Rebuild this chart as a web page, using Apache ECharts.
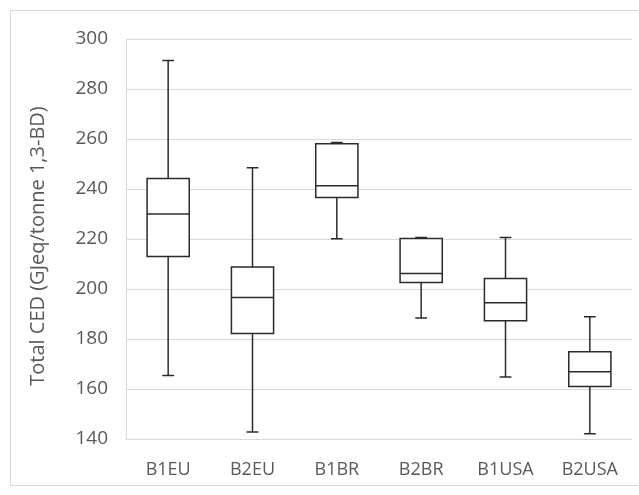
<!DOCTYPE html>
<html>
<head>
<meta charset="utf-8">
<script src="https://cdn.jsdelivr.net/npm/echarts@6/dist/echarts.min.js"></script>
<style>
  html, body { margin: 0; padding: 0; background: #fff; }
  #chart { width: 639px; height: 495px; }
</style>
</head>
<body>
<div id="chart"></div>
<script>
// categories and box stats
const categories = ['B1EU', 'B2EU', 'B1BR', 'B2BR', 'B1USA', 'B2USA'];
const mins    = [165.4, 142.8, 220.1, 188.4, 164.8, 142.1];
const q1s     = [213.0, 182.2, 236.6, 202.6, 187.3, 161.0];
const medians = [230.0, 196.6, 241.3, 206.2, 194.5, 166.9];
const q3s     = [244.2, 208.8, 258.1, 220.2, 204.2, 174.9];
const maxs    = [291.4, 248.5, 258.6, 220.6, 220.6, 188.9];

const yTicks = [140, 160, 180, 200, 220, 240, 260, 280, 300];

const font = '"Open Sans", sans-serif';
const textGray = '#595959';
const lineCol = '#2b2b2b';

const boxData = categories.map((c, i) => [i, mins[i], q1s[i], medians[i], q3s[i], maxs[i]]);

const chart = echarts.init(document.getElementById('chart'));

chart.setOption({
  animation: false,
  graphic: [
    {
      type: 'rect',
      shape: { x: 10.5, y: 10.5, width: 640, height: 475 },
      style: { fill: 'none', stroke: '#d9d9d9', lineWidth: 1 },
      silent: true,
    },
  ],
  grid: {
    left: 126,
    right: 7,
    top: 39,
    bottom: 56,
  },
  xAxis: {
    type: 'category',
    data: categories,
    axisLine: { show: true, lineStyle: { color: '#d9d9d9', width: 1 } },
    axisTick: { show: false },
    axisLabel: {
      color: textGray,
      fontFamily: font,
      fontSize: 18,
      margin: 22,
    },
  },
  yAxis: {
    type: 'value',
    min: yTicks[0],
    max: yTicks[yTicks.length - 1],
    interval: 20,
    name: 'Total CED (GJeq/tonne 1,3-BD)',
    nameLocation: 'middle',
    nameGap: 78,
    nameTextStyle: {
      color: textGray,
      fontFamily: font,
      fontSize: 20,
      padding: [0, 14, 0, 0],
    },
    axisLine: { show: true, lineStyle: { color: '#d9d9d9', width: 1 } },
    axisTick: { show: false },
    axisLabel: {
      color: textGray,
      fontFamily: font,
      fontSize: 19,
      margin: 18,
    },
    splitLine: { show: true, lineStyle: { color: '#d9d9d9', width: 1 } },
  },
  series: [
    {
      type: 'custom',
      data: boxData,
      encode: { x: 0, y: [1, 2, 3, 4, 5] },
      renderItem: function (params, api) {
        const i = api.value(0);
        const band = api.size([1, 0])[0];
        const halfBox = band * 0.25;
        const halfCap = band * 0.07;
        const pMin = api.coord([i, api.value(1)]);
        const pQ1 = api.coord([i, api.value(2)]);
        const pMed = api.coord([i, api.value(3)]);
        const pQ3 = api.coord([i, api.value(4)]);
        const pMax = api.coord([i, api.value(5)]);
        const cx = pMed[0];
        const st = { stroke: lineCol, lineWidth: 1.5, fill: 'none' };
        return {
          type: 'group',
          children: [
            // whiskers
            { type: 'line', shape: { x1: cx, y1: pQ3[1], x2: cx, y2: pMax[1] }, style: st },
            { type: 'line', shape: { x1: cx, y1: pQ1[1], x2: cx, y2: pMin[1] }, style: st },
            // caps
            { type: 'line', shape: { x1: cx - halfCap, y1: pMax[1], x2: cx + halfCap, y2: pMax[1] }, style: st },
            { type: 'line', shape: { x1: cx - halfCap, y1: pMin[1], x2: cx + halfCap, y2: pMin[1] }, style: st },
            // box
            {
              type: 'rect',
              shape: { x: cx - halfBox, y: pQ3[1], width: halfBox * 2, height: pQ1[1] - pQ3[1] },
              style: { stroke: lineCol, lineWidth: 1.5, fill: '#fff' },
            },
            // median
            { type: 'line', shape: { x1: cx - halfBox, y1: pMed[1], x2: cx + halfBox, y2: pMed[1] }, style: st },
          ],
        };
      },
    },
  ],
});
</script>
</body>
</html>
